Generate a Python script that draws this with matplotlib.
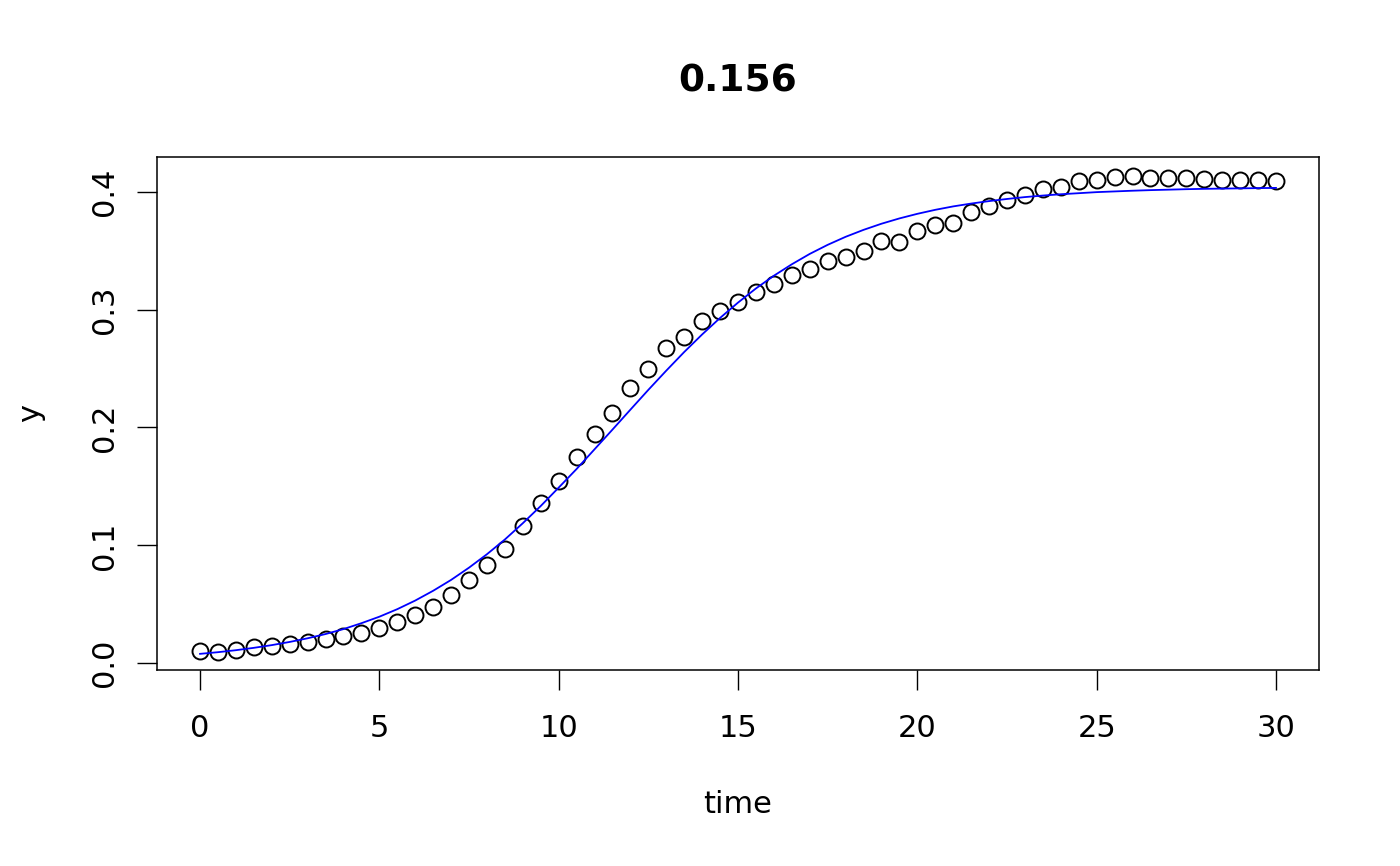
import numpy as np
import matplotlib
matplotlib.use("Agg")
import matplotlib.pyplot as plt

# observed points, time 0..30 by 0.5
time = np.arange(0, 30.5, 0.5)
y = [0.0102, 0.0097, 0.0113, 0.0135, 0.0148, 0.0165, 0.0180, 0.0203, 0.0233, 0.0260,
     0.0300, 0.0350, 0.0410, 0.0478, 0.0580, 0.0707, 0.0833, 0.0973, 0.1162, 0.1360,
     0.1546, 0.1749, 0.1945, 0.2123, 0.2335, 0.2496, 0.2674, 0.2767, 0.2903, 0.2986,
     0.3066, 0.3146, 0.3213, 0.3297, 0.3344, 0.3410, 0.3446, 0.3497, 0.3580, 0.3573,
     0.3670, 0.3718, 0.3738, 0.3831, 0.3879, 0.3927, 0.3968, 0.4020, 0.4040, 0.4088,
     0.4097, 0.4125, 0.4131, 0.4116, 0.4116, 0.4116, 0.4110, 0.4102, 0.4102, 0.4097,
     0.4088]

# fitted curve, read at the same times
fit_time = np.arange(0, 30.5, 0.5)
fit_y = [0.0080, 0.0094, 0.0111, 0.0131, 0.0154, 0.0181, 0.0212, 0.0248, 0.0290, 0.0340,
         0.0395, 0.0459, 0.0532, 0.0615, 0.0707, 0.0811, 0.0925, 0.1050, 0.1188, 0.1334,
         0.1490, 0.1648, 0.1815, 0.1982, 0.2151, 0.2319, 0.2482, 0.2640, 0.2789, 0.2929,
         0.3059, 0.3179, 0.3287, 0.3384, 0.3472, 0.3549, 0.3617, 0.3676, 0.3728, 0.3773,
         0.3812, 0.3846, 0.3875, 0.3899, 0.3920, 0.3938, 0.3954, 0.3967, 0.3978, 0.3987,
         0.3996, 0.4002, 0.4008, 0.4013, 0.4017, 0.4021, 0.4024, 0.4026, 0.4028, 0.4030,
         0.4032]

title = "0.156"

plt.rcParams['font.family'] = 'DejaVu Sans'
fig = plt.figure(figsize=(14, 8.66), dpi=100)
ax = fig.add_axes([157 / 1400, 1 - 670 / 866, 1162 / 1400, 513 / 866])

ax.plot(time, y, 'o', mfc='none', mec='black', ms=11.5, mew=1.4)
ax.plot(fit_time, fit_y, color='blue', lw=1.3)

ax.set_xlim(-1.2, 31.2)
ax.set_ylim(-0.0057, 0.4294)
ax.set_xticks([0, 5, 10, 15, 20, 25, 30])
ax.set_yticks([0.0, 0.1, 0.2, 0.3, 0.4])
ax.set_yticklabels(["0.0", "0.1", "0.2", "0.3", "0.4"], rotation=90, va='center')
ax.tick_params(direction='out', length=14.4, width=1.0, labelsize=22)
ax.tick_params(axis='x', pad=17)
ax.tick_params(axis='y', pad=13)
for s in ax.spines.values():
    s.set_linewidth(1.1)

ax.set_xlabel("time", fontsize=22, labelpad=34)
ax.set_ylabel("y", fontsize=22, labelpad=32)
fig.text(738 / 1400, 1 - 81 / 866, title, fontsize=27, fontweight='bold', ha='center', va='center')

fig.savefig("out.png", dpi=100)
